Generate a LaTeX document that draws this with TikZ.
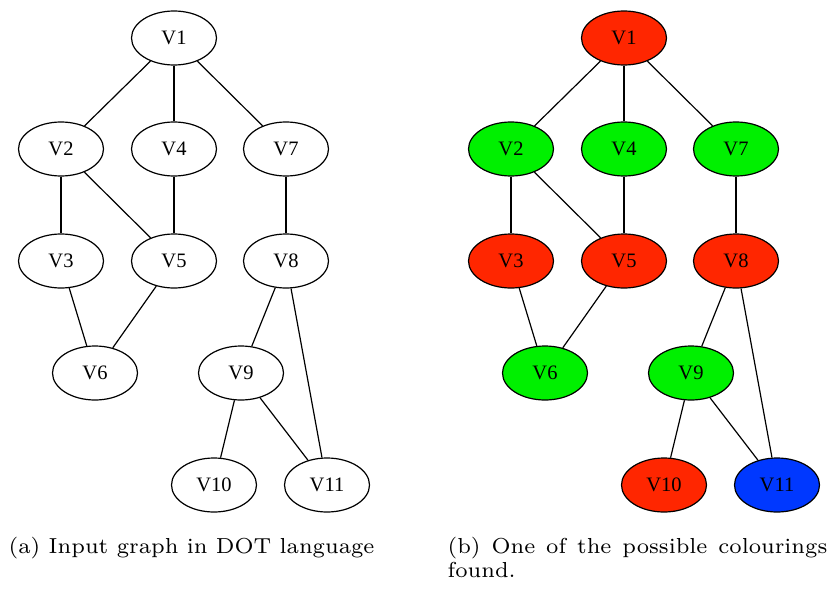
\documentclass[tikz,border=0pt]{standalone}
\usepackage{fontspec}
\newfontfamily\nodefont{Liberation Serif}
\usetikzlibrary{shapes.geometric}
\definecolor{cred}{RGB}{255,38,0}
\definecolor{cgreen}{RGB}{0,240,0}
\definecolor{cblue}{RGB}{0,56,255}
\begin{document}
\begin{tikzpicture}[x=1pt,y=-1pt,
  vtx/.style={ellipse,draw=black,line width=1.2pt,minimum width=85pt,minimum height=54pt,inner sep=0pt,font=\nodefont\fontsize{20.5}{24}\selectfont},
  edge/.style={line width=1.2pt},
  captxt/.style={anchor=base west,inner sep=0pt,scale=3.1,font=\fontsize{7}{7.6}\selectfont}]
\useasboundingbox (0,0) rectangle (828,592);
\foreach \ox/\p/\qa/\qb/\qc/\qd/\qe/\qf/\qg/\qh/\qi/\qj/\qk in
  {0/a/white/white/white/white/white/white/white/white/white/white/white,
   450/b/cred/cgreen/cred/cgreen/cred/cgreen/cgreen/cred/cgreen/cred/cblue}{
  \node[vtx,fill=\qa] (\p1) at (\ox+174,38) {V1};
  \node[vtx,fill=\qb] (\p2) at (\ox+61,149) {V2};
  \node[vtx,fill=\qd] (\p4) at (\ox+174,149) {V4};
  \node[vtx,fill=\qg] (\p7) at (\ox+286,149) {V7};
  \node[vtx,fill=\qc] (\p3) at (\ox+61,261) {V3};
  \node[vtx,fill=\qe] (\p5) at (\ox+174,261) {V5};
  \node[vtx,fill=\qh] (\p8) at (\ox+286,261) {V8};
  \node[vtx,fill=\qf] (\p6) at (\ox+95,373) {V6};
  \node[vtx,fill=\qi] (\p9) at (\ox+241,373) {V9};
  \node[vtx,fill=\qj] (\p10) at (\ox+214,485) {V10};
  \node[vtx,fill=\qk] (\p11) at (\ox+327,485) {V11};
  \draw[edge] (\p1) -- (\p2);
  \draw[edge] (\p1) -- (\p4);
  \draw[edge] (\p1) -- (\p7);
  \draw[edge] (\p2) -- (\p3);
  \draw[edge] (\p2) -- (\p5);
  \draw[edge] (\p4) -- (\p5);
  \draw[edge] (\p3) -- (\p6);
  \draw[edge] (\p5) -- (\p6);
  \draw[edge] (\p7) -- (\p8);
  \draw[edge] (\p8) -- (\p9);
  \draw[edge] (\p8) -- (\p11);
  \draw[edge] (\p9) -- (\p10);
  \draw[edge] (\p9) -- (\p11);
}
\node[captxt] (capa) at (8,553) {(a) Input graph in DOT language};
\node[captxt,anchor=north west,text width=122.5pt,align=justify] (capb) at (447,537) {(b) One of the possible colourings found.};
\end{tikzpicture}
\end{document}
